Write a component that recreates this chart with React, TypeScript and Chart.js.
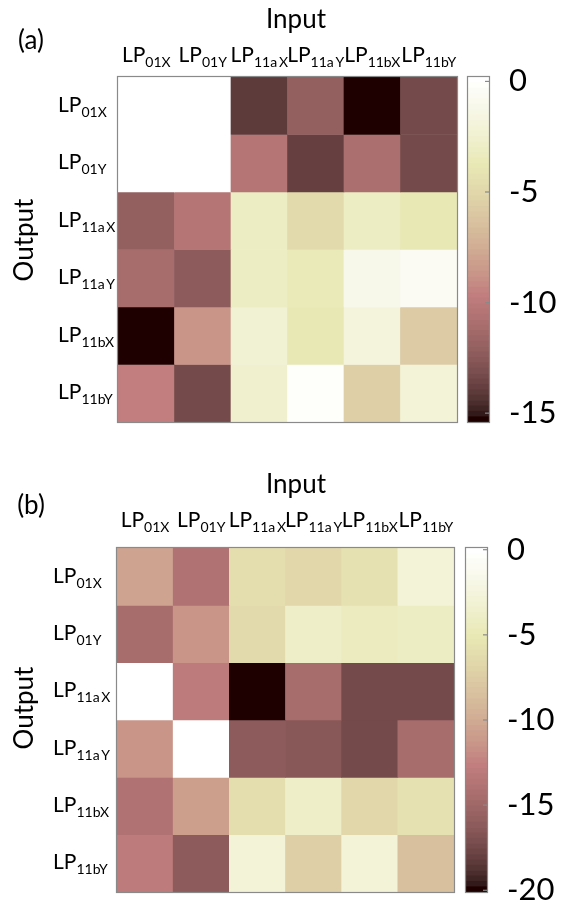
import React, { useEffect, useRef } from 'react';
import { Chart, registerables } from 'chart.js';

Chart.register(...registerables);

const FONT = 'Lato, "Open Sans", sans-serif';

// Mode subscripts (LP_xx) used for both Input (columns) and Output (rows)
const modeSubscripts = ['01X', '01Y', '11a\u2009X', '11a\u2009Y', '11bX', '11bY'];

// Panel (a): rows = output mode, columns = input mode (dB)
const aRow01X = [0.2, 0.2, -14.0, -12.2, -15.4, -13.4];
const aRow01Y = [0.2, 0.0, -10.4, -13.8, -11.0, -13.4];
const aRow11aX = [-12.1, -10.4, -3.0, -4.8, -3.2, -3.8];
const aRow11aY = [-11.1, -12.3, -3.2, -3.6, -1.2, -0.7];
const aRow11bX = [-15.4, -8.8, -2.3, -3.8, -1.8, -5.7];
const aRow11bY = [-9.7, -13.4, -2.6, -0.2, -5.6, -2.0];
const aRange = [-15.4, 0.2];
const aTicks = [0, -5, -10, -15];

// Panel (b)
const bRow01X = [-10.4, -14.0, -6.1, -6.8, -5.6, -2.8];
const bRow01Y = [-14.6, -11.4, -6.4, -3.8, -4.6, -4.2];
const bRow11aX = [0.1, -13.0, -20.1, -14.6, -17.5, -17.5];
const bRow11aY = [-11.4, 0.1, -16.1, -16.5, -17.3, -14.6];
const bRow11bX = [-14.0, -10.9, -6.1, -3.8, -6.8, -5.6];
const bRow11bY = [-13.0, -16.1, -2.8, -7.3, -2.8, -8.6];
const bRange = [-20.1, 0.1];
const bTicks = [0, -5, -10, -15, -20];

const LEVELS = 64;

// MATLAB "pink" colormap, 64 levels
function pinkLevel(k0: number): string {
  const m = LEVELS;
  const k = Math.max(0, Math.min(m - 1, k0)) + 1;
  const gray = (k - 1) / (m - 1);
  const n = Math.floor((3 / 8) * m);
  const hr = k <= n ? k / n : 1;
  const hg = k <= n ? 0 : k <= 2 * n ? (k - n) / n : 1;
  const hb = k <= 2 * n ? 0 : (k - 2 * n) / (m - 2 * n);
  const f = (h: number) => Math.round(255 * Math.sqrt((2 * gray + h) / 3));
  return `rgb(${f(hr)},${f(hg)},${f(hb)})`;
}

function pinkValue(v: number, min: number, max: number): string {
  const k = Math.floor(((v - min) / (max - min)) * LEVELS);
  return pinkLevel(k);
}

function drawLP(
  ctx: CanvasRenderingContext2D,
  x: number,
  baseline: number,
  sub: string,
  big: number,
  small: number,
  align: 'center' | 'left'
) {
  ctx.textBaseline = 'alphabetic';
  ctx.textAlign = 'left';
  ctx.font = `${big}px ${FONT}`;
  const w1 = ctx.measureText('LP').width;
  ctx.font = `${small}px ${FONT}`;
  const w2 = ctx.measureText(sub).width;
  const x0 = align === 'center' ? x - (w1 + w2) / 2 : x;
  ctx.font = `${big}px ${FONT}`;
  ctx.fillText('LP', x0, baseline);
  ctx.font = `${small}px ${FONT}`;
  ctx.fillText(sub, x0 + w1, baseline + 5);
}

type PanelCfg = {
  tag: string;
  height: number;
  rows: number[][];
  range: number[];
  ticks: number[];
  box: { l: number; t: number; r: number; b: number };
  cb: { l: number; r: number };
  rowLabelX: number;
  outputY: number;
  textShift: number;
};

const W = 575;

function Panel({ cfg }: { cfg: PanelCfg }) {
  const heatRef = useRef<HTMLCanvasElement>(null);
  const cbRef = useRef<HTMLCanvasElement>(null);
  const cbLeft = cfg.cb.l - 4;
  const cbWidth = W - cbLeft;

  useEffect(() => {
    const [min, max] = cfg.range;
    const sh = cfg.textShift;
    const textPlugin = {
      id: 'heatText',
      afterDraw(chart: any) {
        const ctx: CanvasRenderingContext2D = chart.ctx;
        const a = chart.chartArea;
        ctx.save();
        ctx.strokeStyle = '#8a8a8a';
        ctx.lineWidth = 1.2;
        ctx.strokeRect(a.left - 0.5, a.top - 0.5, a.right - a.left + 1, a.bottom - a.top + 1);
        ctx.fillStyle = '#000';
        ctx.font = `26px ${FONT}`;
        ctx.textAlign = 'center';
        ctx.textBaseline = 'middle';
        ctx.fillText('Input', 296, 20 + sh);
        ctx.fillText(`(${cfg.tag})`, 31, 41 + sh);
        ctx.save();
        ctx.translate(25, cfg.outputY);
        ctx.rotate(-Math.PI / 2);
        ctx.fillText('Output', 0, 0);
        ctx.restore();
        const xs = chart.scales.x;
        const ys = chart.scales.y;
        modeSubscripts.forEach((s, i) => {
          drawLP(ctx, xs.getPixelForValue(i), 62 + sh, s, 21, 14, 'center');
        });
        modeSubscripts.forEach((s, i) => {
          drawLP(ctx, cfg.rowLabelX, ys.getPixelForValue(i + 0.5) + 6, s, 21, 14, 'left');
        });
        ctx.restore();
      },
    };

    const heat = new Chart(heatRef.current as HTMLCanvasElement, {
      type: 'bar',
      data: {
        labels: modeSubscripts.map((s) => 'LP' + s),
        datasets: cfg.rows.map((row, r) => ({
          label: 'LP' + modeSubscripts[r],
          data: row.map(() => 1),
          backgroundColor: row.map((v) => pinkValue(v, min, max)),
          borderWidth: 0,
          barPercentage: 1,
          categoryPercentage: 1,
          stack: 'cells',
        })),
      },
      options: {
        responsive: false,
        animation: false,
        events: [],
        layout: {
          padding: { left: cfg.box.l, top: cfg.box.t, right: W - cfg.box.r, bottom: cfg.height - cfg.box.b },
        },
        plugins: { legend: { display: false }, tooltip: { enabled: false }, title: { display: false } },
        scales: {
          x: { display: false, stacked: true },
          y: { display: false, stacked: true, min: 0, max: 6, reverse: true },
        },
      },
      plugins: [textPlugin],
    } as any);

    const cbPlugin = {
      id: 'cbText',
      afterDraw(chart: any) {
        const ctx: CanvasRenderingContext2D = chart.ctx;
        const a = chart.chartArea;
        const ys = chart.scales.y;
        ctx.save();
        ctx.strokeStyle = '#8a8a8a';
        ctx.lineWidth = 1.2;
        ctx.strokeRect(a.left - 0.5, a.top - 0.5, a.right - a.left + 1, a.bottom - a.top + 1);
        ctx.fillStyle = '#000';
        ctx.font = `31px ${FONT}`;
        ctx.textAlign = 'left';
        ctx.textBaseline = 'middle';
        cfg.ticks.forEach((t) => {
          const y = ys.getPixelForValue(t);
          ctx.beginPath();
          ctx.moveTo(a.right, y);
          ctx.lineTo(a.right - 4, y);
          ctx.stroke();
          ctx.fillText(String(t), a.right + 20, y);
        });
        ctx.restore();
      },
    };

    const levels = Array.from({ length: LEVELS }, (_, i) => i);
    const step = (max - min) / LEVELS;
    const cb = new Chart(cbRef.current as HTMLCanvasElement, {
      type: 'bar',
      data: {
        labels: ['scale'],
        datasets: levels.map((i) => ({
          data: [[min + i * step, min + (i + 1) * step]],
          backgroundColor: pinkLevel(i),
          borderWidth: 0,
          barPercentage: 1,
          categoryPercentage: 1,
          grouped: false,
        })),
      },
      options: {
        responsive: false,
        animation: false,
        events: [],
        layout: {
          padding: { left: 4, top: cfg.box.t, right: cbWidth - 4 - (cfg.cb.r - cfg.cb.l), bottom: cfg.height - cfg.box.b },
        },
        plugins: { legend: { display: false }, tooltip: { enabled: false } },
        scales: {
          x: { display: false },
          y: { display: false, min, max },
        },
      },
      plugins: [cbPlugin],
    } as any);

    return () => {
      heat.destroy();
      cb.destroy();
    };
  }, [cfg]);

  return (
    <div style={{ position: 'relative', width: W, height: cfg.height }}>
      <canvas ref={heatRef} width={W} height={cfg.height} style={{ position: 'absolute', left: 0, top: 0 }} />
      <canvas ref={cbRef} width={cbWidth} height={cfg.height} style={{ position: 'absolute', left: cbLeft, top: 0 }} />
    </div>
  );
}

const panelA: PanelCfg = {
  tag: 'a',
  height: 460,
  rows: [aRow01X, aRow01Y, aRow11aX, aRow11aY, aRow11bX, aRow11bY],
  range: aRange,
  ticks: aTicks,
  box: { l: 118, t: 77, r: 457, b: 422 },
  cb: { l: 468, r: 489 },
  rowLabelX: 58,
  outputY: 240,
  textShift: 0,
};

const panelB: PanelCfg = {
  tag: 'b',
  height: 445,
  rows: [bRow01X, bRow01Y, bRow11aX, bRow11aY, bRow11bX, bRow11bY],
  range: bRange,
  ticks: bTicks,
  box: { l: 117, t: 88, r: 454, b: 432 },
  cb: { l: 466, r: 487 },
  rowLabelX: 53,
  outputY: 248,
  textShift: 5,
};

export default function App() {
  return (
    <div style={{ position: 'absolute', left: 0, top: 0, width: W, height: 905, background: '#fff', overflow: 'hidden' }}>
      <Panel cfg={panelA} />
      <Panel cfg={panelB} />
    </div>
  );
}
